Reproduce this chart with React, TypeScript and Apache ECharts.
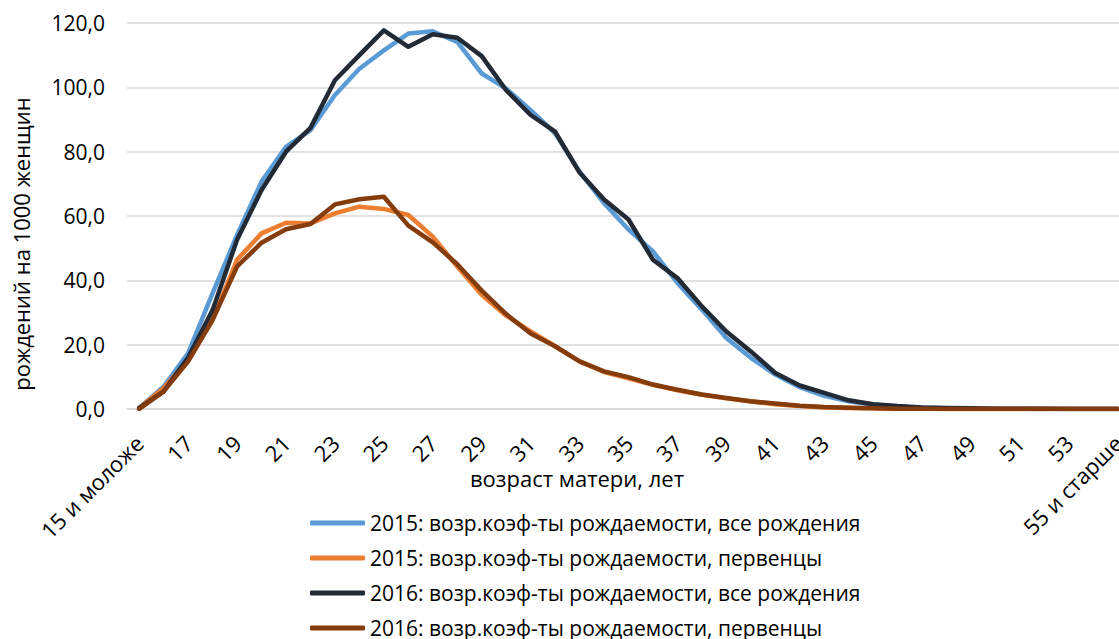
import React, { useEffect, useRef } from "react";
import * as echarts from "echarts";

const ages: string[] = [
  "15 и моложе", "16", "17", "18", "19", "20", "21", "22", "23", "24", "25", "26", "27", "28", "29",
  "30", "31", "32", "33", "34", "35", "36", "37", "38", "39", "40", "41", "42", "43", "44",
  "45", "46", "47", "48", "49", "50", "51", "52", "53", "54", "55 и старше",
];

const all2015: number[] = [
  0.3, 7.0, 17.4, 36.0, 54.1, 70.7, 81.5, 86.7, 97.6, 105.8, 111.5, 116.7, 117.4, 114.1, 104.3,
  99.6, 92.9, 85.7, 73.8, 64.0, 55.8, 49.0, 39.2, 30.9, 22.1, 15.9, 10.7, 6.8, 4.1, 2.4,
  1.3, 0.7, 0.4, 0.2, 0.1, 0.1, 0.05, 0.03, 0.02, 0.01, 0.01,
];

const first2015: number[] = [
  0.3, 6.5, 15.3, 27.7, 46.4, 54.6, 57.9, 57.7, 60.8, 62.9, 62.2, 60.3, 53.6, 44.3, 35.5,
  29.0, 24.1, 19.5, 14.8, 11.5, 9.5, 7.5, 5.8, 4.4, 3.3, 2.3, 1.5, 0.9, 0.5, 0.3,
  0.2, 0.1, 0.05, 0.03, 0.02, 0.01, 0.01, 0, 0, 0, 0,
];

const all2016: number[] = [
  0.3, 5.5, 16.0, 30.8, 52.6, 68.1, 80.0, 87.4, 102.2, 110.0, 117.7, 112.6, 116.5, 115.4, 109.7,
  99.1, 91.4, 86.2, 73.5, 65.1, 58.9, 46.4, 40.7, 31.9, 24.1, 17.9, 11.2, 7.3, 5.0, 2.7,
  1.5, 0.9, 0.5, 0.3, 0.2, 0.1, 0.1, 0.05, 0.03, 0.02, 0.01,
];

const first2016: number[] = [
  0, 5.5, 14.8, 27.7, 44.3, 51.7, 55.9, 57.5, 63.6, 65.2, 66.0, 57.0, 51.8, 45.0, 36.8,
  29.5, 23.5, 19.5, 14.8, 11.7, 9.9, 7.6, 6.0, 4.5, 3.4, 2.4, 1.7, 1.0, 0.6, 0.4,
  0.2, 0.1, 0.05, 0.03, 0.02, 0.01, 0.01, 0, 0, 0, 0,
];

const seriesNames: string[] = [
  "2015: возр.коэф-ты рождаемости, все рождения",
  "2015: возр.коэф-ты рождаемости, первенцы",
  "2016: возр.коэф-ты рождаемости, все рождения",
  "2016: возр.коэф-ты рождаемости, первенцы",
];

const colors: string[] = ["#5B9BD5", "#ED7D31", "#222A35", "#843C0C"];

const xTitle = "возраст матери, лет";
const yTitle = "рождений на 1000 женщин";

const FONT = "'Open Sans', 'Noto Sans', sans-serif";

export default function App() {
  const ref = useRef<HTMLDivElement>(null);

  useEffect(() => {
    if (!ref.current) return;
    const chart = echarts.init(ref.current, undefined, { renderer: "svg" });
    const dataSets = [all2015, first2015, all2016, first2016];
    chart.setOption({
      animation: false,
      color: colors,
      textStyle: { fontFamily: FONT, color: "#000" },
      grid: {
        left: 127,
        right: 10,
        top: 23,
        bottom: 230,
        containLabel: false,
        outerBoundsMode: "none",
      },
      xAxis: {
        type: "category",
        data: ages,
        boundaryGap: true,
        axisLine: { show: true, lineStyle: { color: "#D9D9D9", width: 1.5 } },
        axisTick: { show: false },
        axisLabel: {
          interval: 1,
          rotate: 45,
          margin: 30,
          fontSize: 22,
          fontFamily: FONT,
          color: "#000",
        },
      },
      yAxis: {
        type: "value",
        min: 0,
        max: 120,
        interval: 20,
        axisLine: { show: false },
        axisTick: { show: false },
        splitLine: { lineStyle: { color: "#D9D9D9", width: 1.5 } },
        axisLabel: {
          margin: 22,
          fontSize: 21,
          fontFamily: FONT,
          color: "#000",
          formatter: (v: number) => v.toFixed(1).replace(".", ","),
        },
      },
      legend: {
        orient: "vertical",
        left: 310,
        top: 512,
        height: 160,
        padding: 0,
        itemWidth: 55,
        itemHeight: 5,
        itemGap: 13,
        icon: "roundRect",
        textStyle: { fontSize: 21, fontFamily: FONT, color: "#000", lineHeight: 22 },
        data: seriesNames,
      },
      graphic: [
        {
          type: "text",
          x: 577,
          y: 478,
          style: {
            text: xTitle,
            x: 0,
            y: 0,
            textAlign: "center",
            textVerticalAlign: "middle",
            fontSize: 22,
            fontFamily: FONT,
            fill: "#000",
          },
        },
        {
          type: "text",
          x: 21,
          y: 244,
          rotation: Math.PI / 2,
          style: {
            text: yTitle,
            x: 0,
            y: 0,
            textAlign: "center",
            textVerticalAlign: "middle",
            fontSize: 22,
            fontFamily: FONT,
            fill: "#000",
          },
        },
      ],
      series: seriesNames.map((name, i) => ({
        name,
        type: "line",
        data: dataSets[i],
        symbol: "none",
        smooth: false,
        lineStyle: { width: 4.5, color: colors[i], cap: "round", join: "round" },
        itemStyle: { color: colors[i] },
      })),
    });
    return () => chart.dispose();
  }, []);

  return (
    <div
      style={{
        position: "fixed",
        left: 0,
        top: 0,
        width: 1119,
        height: 639,
        overflow: "hidden",
        background: "#fff",
      }}
    >
      <div ref={ref} style={{ width: 1140, height: 639 }} />
    </div>
  );
}
